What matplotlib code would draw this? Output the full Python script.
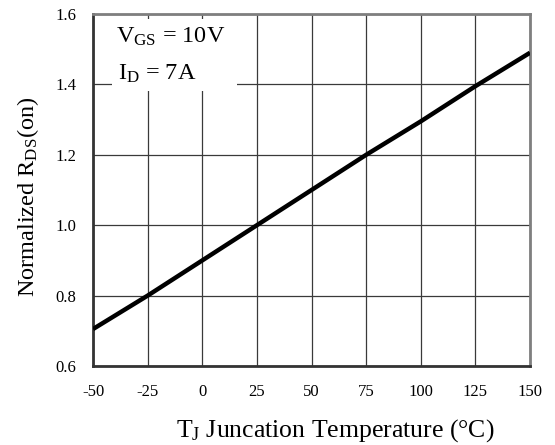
import matplotlib
matplotlib.use("Agg")
import matplotlib.pyplot as plt
from matplotlib.patches import Rectangle

# Normalized on-resistance vs junction temperature
temp_c = [-50, -25, 0, 25, 50, 75, 100, 125, 150]
rds_norm = [0.705, 0.80, 0.90, 1.00, 1.10, 1.20, 1.295, 1.395, 1.49]

x_ticks = [-50, -25, 0, 25, 50, 75, 100, 125, 150]
x_tick_labels = ["-50", "-25", "0", "25", "50", "75", "100", "125", "150"]
y_ticks = [0.6, 0.8, 1.0, 1.2, 1.4, 1.6]
y_tick_labels = ["0.6", "0.8", "1.0", "1.2", "1.4", "1.6"]

plt.rcParams["font.family"] = ["Liberation Serif", "DejaVu Serif"]
plt.rcParams["mathtext.fontset"] = "custom"
plt.rcParams["mathtext.rm"] = "Liberation Serif"
plt.rcParams["mathtext.it"] = "Liberation Serif"

fig = plt.figure(figsize=(5.55, 4.45), dpi=100)
ax = fig.add_axes([0.1676, 0.1775, 0.7874, 0.791])

ax.set_xlim(-50, 150)
ax.set_ylim(0.6, 1.6)
ax.set_xticks(x_ticks)
ax.set_xticklabels(x_tick_labels, fontsize=12)
ax.set_yticks(y_ticks)
ax.set_yticklabels(y_tick_labels, fontsize=12)
ax.tick_params(length=0)
ax.tick_params(axis="x", pad=13)
ax.tick_params(axis="y", pad=12)

ax.grid(True, color="#3a3a3a", linewidth=0.9, zorder=1)
ax.set_axisbelow(True)

for side in ("left", "bottom"):
    ax.spines[side].set_color("#333333")
    ax.spines[side].set_linewidth(2.0)
for side in ("top", "right"):
    ax.spines[side].set_color("#7f7f7f")
    ax.spines[side].set_linewidth(2.0)

# white panel behind the test conditions
ax.add_patch(Rectangle((-41.5, 1.38), 57.5, 0.206, transform=ax.transData,
                       facecolor="white", edgecolor="none", zorder=2))
ax.text(-39.5, 1.535, r"V$_{\mathrm{GS}}$ = 10V", fontsize=17.5, va="center",
        ha="left", zorder=3)
ax.text(-38.5, 1.43, r"I$_{\mathrm{D}}$ = 7A", fontsize=17.5, va="center",
        ha="left", zorder=3)

ax.plot(temp_c, rds_norm, color="black", linewidth=3.2, zorder=4,
        solid_capstyle="butt")

ax.set_xlabel(r"T$_{\mathrm{J}}$ Juncation Temperature (°C)", fontsize=18.5)
ax.set_ylabel(r"Normalized R$_{\mathrm{DS}}$(on)", fontsize=17.5)
ax.xaxis.set_label_coords(0.555, -0.145)
ax.yaxis.set_label_coords(-0.118, 0.48)

fig.savefig("out.png", dpi=100)
